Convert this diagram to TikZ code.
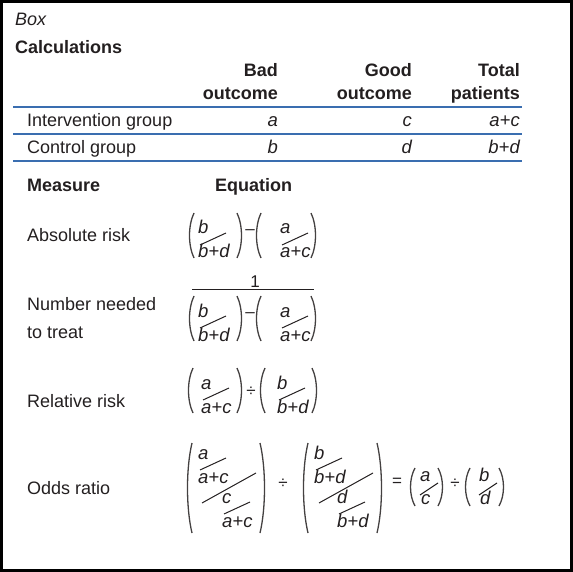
\documentclass[tikz,border=0pt]{standalone}
\usepackage{fontspec}
\setmainfont{Liberation Sans}
\definecolor{ink}{RGB}{35,31,32}
\definecolor{ruleblue}{RGB}{58,110,176}
\tikzset{
	txt/.style={inner sep=0pt, text=ink, font=\fontsize{18}{21}\selectfont},
	head/.style={inner sep=0pt, text=ink, font=\fontsize{18}{21}\selectfont\bfseries},
	var/.style={inner sep=0pt, text=ink, font=\fontsize{18.5}{21}\selectfont\itshape},
	op/.style={inner sep=0pt, text=ink, font=\fontsize{17}{20}\selectfont},
	rule/.style={draw=ruleblue, line width=1.6pt},
	slash/.style={draw=ink, line width=1pt},
	paren/.style={draw=ink!85, line width=1.3pt},
}
% slanted fraction: name, x, numerator baseline, numerator, denominator
\newcommand{\slfrac}[5]{%
	\node[var, anchor=base west] (#1-num) at (#2,#3) {#4};
	\node[var, anchor=base west] (#1-den) at (#2,{#3+24}) {#5};
	\draw[slash] ({#2+2},{#3+11}) -- ({#2+28},{#3-1});
}
% round brackets: x, top, bottom
\newcommand{\lpar}[3]{\draw[paren] ({#1+6},#2) .. controls (#1,{#2+0.28*(#3-#2)}) and (#1,{#3-0.28*(#3-#2)}) .. ({#1+6},#3);}
\newcommand{\rpar}[3]{\draw[paren] (#1,#2) .. controls ({#1+6},{#2+0.28*(#3-#2)}) and ({#1+6},{#3-0.28*(#3-#2)}) .. (#1,#3);}
\begin{document}
\begin{tikzpicture}[x=1pt,y=-1pt]
	\useasboundingbox (0,0) rectangle (573,572);
	\draw[line width=3pt] (1.5,1.5) rectangle (571.5,570.5);
	\node[txt, anchor=base west, font=\fontsize{18}{21}\selectfont\itshape] (box) at (15,26) {Box};
	\node[head, anchor=base west] (calc) at (15,54) {Calculations};
	% table
	\node[head, anchor=base east] (bad) at (278,77) {Bad};
	\node[head, anchor=base east] (bad2) at (278,100) {outcome};
	\node[head, anchor=base east] (good) at (412,77) {Good};
	\node[head, anchor=base east] (good2) at (412,100) {outcome};
	\node[head, anchor=base east] (total) at (520,77) {Total};
	\node[head, anchor=base east] (total2) at (520,100) {patients};
	\foreach \y in {107,134,161}
	\draw[rule] (13,\y) -- (522,\y);
	\node[txt, anchor=base west] (interv) at (27,127) {Intervention group};
	\node[var, anchor=base east] (ia) at (278,127) {a};
	\node[var, anchor=base east] (ic) at (412,127) {c};
	\node[var, anchor=base east] (iac) at (520,127) {a+c};
	\node[txt, anchor=base west] (control) at (27,154) {Control group};
	\node[var, anchor=base east] (cb) at (278,154) {b};
	\node[var, anchor=base east] (cd) at (412,154) {d};
	\node[var, anchor=base east] (cbd) at (520,154) {b+d};
	% measures
	\node[head, anchor=base west] (measure) at (27,192) {Measure};
	\node[head, anchor=base west] (equation) at (215,192) {Equation};
	\node[txt, anchor=base west] (absrisk) at (27,242) {Absolute risk};
	\lpar{188}{213}{258}
	\slfrac{ar1}{198}{234}{b}{b+d}
	\rpar{237}{213}{258}
	\node[op] (ar-minus) at (250,232) {–};
	\lpar{255}{213}{258}
	\slfrac{ar2}{280}{234}{a}{a+c}
	\rpar{311}{213}{258}
	\node[txt, anchor=base west] (nnt) at (27,310) {Number needed};
	\node[txt, anchor=base west] (nnt2) at (27,338) {to treat};
	\node[op] (one) at (255,282) {1};
	\draw[slash] (192,289) -- (314,289);
	\lpar{188}{296}{341}
	\slfrac{nt1}{198}{317}{b}{b+d}
	\rpar{237}{296}{341}
	\node[op] (nt-minus) at (250,315) {–};
	\lpar{255}{296}{341}
	\slfrac{nt2}{280}{317}{a}{a+c}
	\rpar{311}{296}{341}
	\node[txt, anchor=base west] (relrisk) at (27,407) {Relative risk};
	\lpar{187}{368}{413}
	\slfrac{rr1}{201}{389}{a}{a+c}
	\rpar{237}{368}{413}
	\node[op] (rr-div) at (251,392) {÷};
	\lpar{259}{368}{413}
	\slfrac{rr2}{277}{389}{b}{b+d}
	\rpar{312}{368}{413}
	\node[txt, anchor=base west] (odds) at (27,494) {Odds ratio};
	\lpar{186}{443}{533}
	\slfrac{or1}{198}{459}{a}{a+c}
	\draw[slash] (202,503) -- (256,473);
	\slfrac{or2}{222}{503}{c}{a+c}
	\rpar{260}{443}{533}
	\node[op] (or-div) at (283,484) {÷};
	\lpar{302}{443}{533}
	\slfrac{or3}{314}{459}{b}{b+d}
	\draw[slash] (319,503) -- (373,473);
	\slfrac{or4}{337}{503}{d}{b+d}
	\rpar{377}{443}{533}
	\node[op] (or-eq) at (397,482) {=};
	\lpar{409}{468}{506}
	\node[var, anchor=base west] (or5-num) at (420,481) {a};
	\node[var, anchor=base west] (or5-den) at (421,504) {c};
	\draw[slash] (420,495) -- (438,483);
	\rpar{438}{468}{506}
	\node[op] (or-div2) at (455,484) {÷};
	\lpar{464}{468}{506}
	\node[var, anchor=base west] (or6-num) at (479,481) {b};
	\node[var, anchor=base west] (or6-den) at (480,504) {d};
	\draw[slash] (479,495) -- (497,483);
	\rpar{499}{468}{506}
\end{tikzpicture}
\end{document}
